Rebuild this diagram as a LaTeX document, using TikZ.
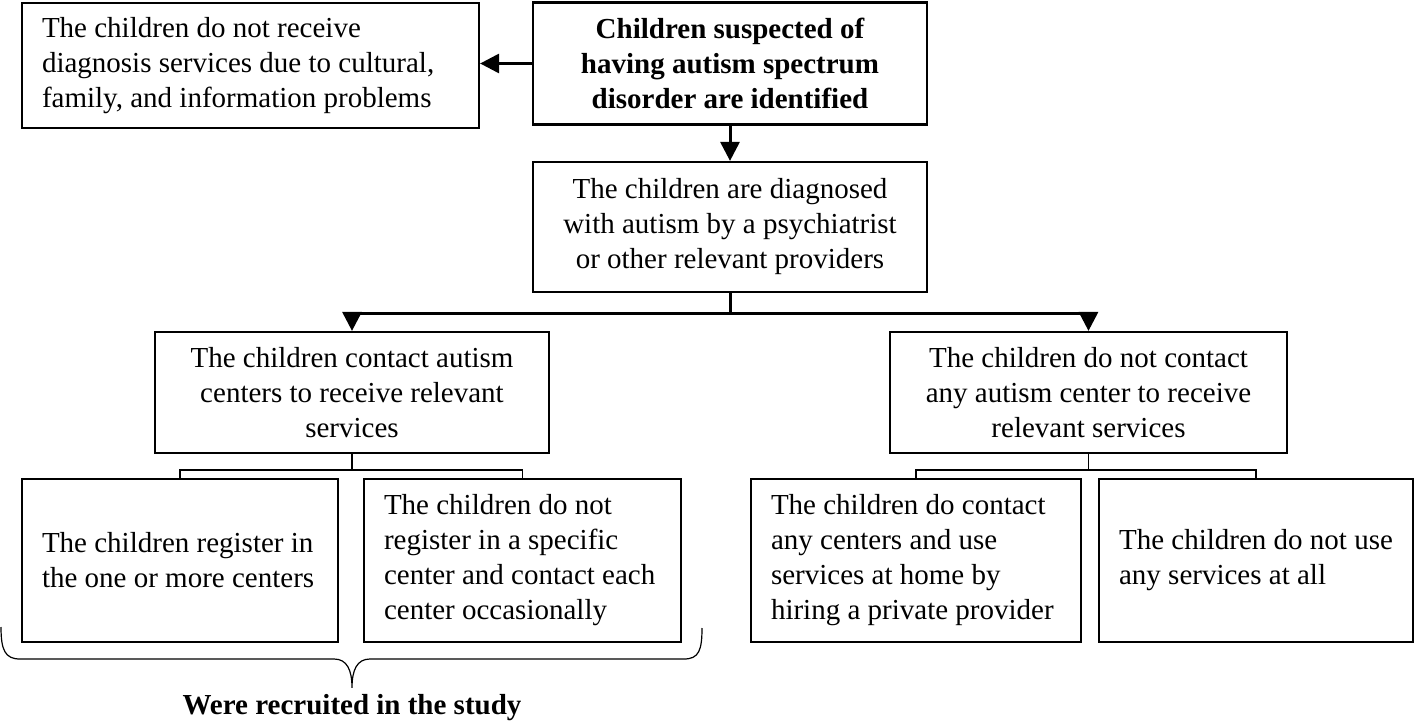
\documentclass[tikz,border=0pt]{standalone}
\usepackage{fontspec}
\setmainfont{Liberation Serif}
\usetikzlibrary{arrows.meta,calc}

\begin{document}
\begin{tikzpicture}[x=0.5pt,y=-0.5pt,
  font=\fontsize{14.5}{17.5}\selectfont,
  box/.style={draw,line width=1.1pt,inner xsep=10pt,inner ysep=3pt},
  flow/.style={-{Triangle[length=9.5pt,width=9.5pt]},line width=1.5pt},
  twig/.style={line width=.7pt}]
  \useasboundingbox (0,0) rectangle (1418,721);
  % top row
  \node[box,align=flush left,text width=208.5pt,minimum height=62.5pt] (nodiag) at (250.5,65.5) {The children do not receive\\diagnosis services due to cultural,\\family, and information problems};
  \node[box,align=center,minimum width=197pt,minimum height=61pt,font={\fontsize{14.5}{17.5}\selectfont\bfseries}] (suspect) at (730,63.5) {Children suspected of\\having autism spectrum\\disorder are identified};
  \node[box,align=center,minimum width=197pt,minimum height=65pt] (diagnosed) at (730,227) {The children are diagnosed\\with autism by a psychiatrist\\or other relevant providers};
  % middle row
  \node[box,align=center,minimum width=197pt,minimum height=60.5pt] (contact) at (352,392.5) {The children contact autism\\centers to receive relevant\\services};
  \node[box,align=center,minimum width=198.5pt,minimum height=60.5pt] (nocontact) at (1088.5,392.5) {The children do not contact\\any autism center to receive\\relevant services};
  % bottom row
  \node[box,align=flush left,text width=138pt,minimum height=81.5pt] (register) at (180,560.5) {The children register in\\the one or more centers};
  \node[box,align=flush left,text width=138.5pt,minimum height=81.5pt] (occasion) at (522.5,560.5) {The children do not\\register in a specific\\center and contact each\\center occasionally};
  \node[box,align=flush left,text width=145pt,minimum height=81.5pt] (private) at (916,560.5) {The children do contact\\any centers and use\\services at home by\\hiring a private provider};
  \node[box,align=flush left,minimum width=156pt,minimum height=81.5pt] (noserv) at (1256,560.5) {The children do not use\\any services at all};
  \node[font={\fontsize{14.5}{17.5}\selectfont\bfseries}] (study) at (352,708) {Were recruited in the study};

  % arrows
  \draw[flow] (suspect.west) -- (suspect.west -| nodiag.east);
  \draw[flow] (suspect) -- (diagnosed);
  \draw[flow] (diagnosed.south) -- ++(0,20) -| (contact.north);
  \draw[flow] (diagnosed.south) -- ++(0,20) -| (nocontact.north);
  \draw[twig] (contact.south) -- ++(0,16) -| (register.north);
  \draw[twig] (contact.south) -- ++(0,16) -| (occasion.north);
  \draw[twig] (nocontact.south) -- ++(0,16) -| (private.north);
  \draw[twig] (nocontact.south) -- ++(0,16) -| (noserv.north);

  % brace
  \coordinate (bl) at (1,627);
  \coordinate (br) at (702,628);
  \draw[line width=.6pt] (bl) .. controls (1,650) and (5,659) .. (20,659) -- (334,659)
    .. controls (347,659) and (352,670) .. (study.north)
    .. controls (352,670) and (357,659) .. (370,659) -- (684,659)
    .. controls (699,659) and (702,650) .. (br);
\end{tikzpicture}
\end{document}
